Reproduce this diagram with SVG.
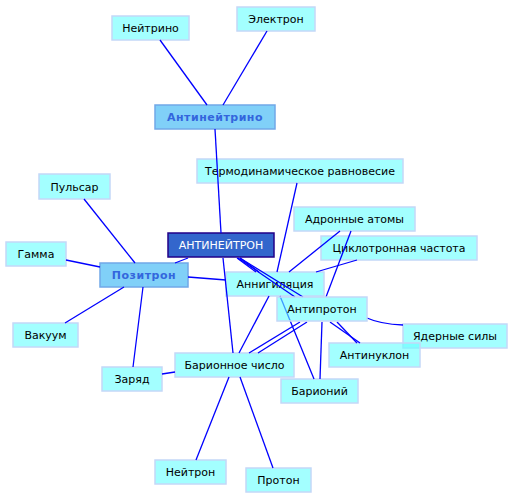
<svg xmlns="http://www.w3.org/2000/svg" width="513" height="499" viewBox="0 0 513 499">
<style>
.n rect{fill:#66ffff;fill-opacity:0.6;stroke:#c4d8f8;stroke-width:1.5}
.n text{font-family:"DejaVu Sans",sans-serif;font-size:11px;fill:#000;text-anchor:middle}
.h rect{fill:#80d0f8;stroke:#70a8e8;stroke-width:1.5}
.h text{font-family:"DejaVu Sans",sans-serif;font-size:11px;font-weight:bold;fill:#3366dd;text-anchor:middle;letter-spacing:0.5px}
.c rect{fill:#3366cc;stroke:#220088;stroke-width:1.5}
.c text{font-family:"DejaVu Sans",sans-serif;font-size:11px;fill:#fff;text-anchor:middle}
#edges line,#edges path{stroke:#0000ff;stroke-width:1.3;fill:none}
</style>
<rect width="513" height="499" fill="#fff"/>
<g id="n-neutrino" class="n"><rect x="112" y="16" width="77" height="24"/><text x="150.5" y="32">Нейтрино</text></g>
<g id="n-electron" class="n"><rect x="237" y="7" width="78" height="24"/><text x="276" y="23">Электрон</text></g>
<g id="n-antineutrino" class="h"><rect x="155" y="105" width="120" height="24"/><text x="215" y="121">Антинейтрино</text></g>
<g id="n-thermo" class="n"><rect x="197" y="159" width="206" height="24"/><text x="300" y="175">Термодинамическое равновесие</text></g>
<g id="n-antineutron" class="c"><rect x="168" y="233" width="106" height="24"/><text x="221" y="249">АНТИНЕЙТРОН</text></g>
<g id="n-hadronic" class="n"><rect x="294" y="207" width="121" height="24"/><text x="354.5" y="223">Адронные атомы</text></g>
<g id="n-cyclotron" class="n"><rect x="321" y="236" width="156" height="24"/><text x="399" y="252">Циклотронная частота</text></g>
<g id="n-annihilation" class="n"><rect x="226" y="272" width="98" height="24"/><text x="275" y="288">Аннигиляция</text></g>
<g id="n-nuclear" class="n"><rect x="403" y="324" width="104" height="24"/><text x="455" y="340">Ядерные силы</text></g>
<g id="n-antinucleon" class="n"><rect x="329" y="343" width="91" height="24"/><text x="374.5" y="359">Антинуклон</text></g>
<g id="n-baryonium" class="n"><rect x="281" y="379" width="77" height="24"/><text x="319.5" y="395">Барионий</text></g>
<g id="n-baryon" class="n"><rect x="175" y="353" width="119" height="24"/><text x="234.5" y="369">Барионное число</text></g>
<g id="n-charge" class="n"><rect x="102" y="367" width="60" height="24"/><text x="132" y="383">Заряд</text></g>
<g id="n-neutron" class="n"><rect x="155" y="460" width="71" height="24"/><text x="190.5" y="476">Нейтрон</text></g>
<g id="n-proton" class="n"><rect x="246" y="468" width="65" height="24"/><text x="278.5" y="484">Протон</text></g>
<g id="n-pulsar" class="n"><rect x="39" y="174" width="71" height="25"/><text x="74.5" y="191">Пульсар</text></g>
<g id="n-gamma" class="n"><rect x="6" y="242" width="60" height="24"/><text x="36" y="258">Гамма</text></g>
<g id="n-positron" class="h"><rect x="100" y="263" width="88" height="24"/><text x="144" y="279">Позитрон</text></g>
<g id="n-vacuum" class="n"><rect x="13" y="323" width="65" height="24"/><text x="45.5" y="339">Вакуум</text></g>
<g id="edges">
<line x1="160" y1="40" x2="207" y2="105"/>
<line x1="267" y1="31" x2="223" y2="105"/>
<line x1="215" y1="129" x2="221" y2="233"/>
<line x1="223" y1="258" x2="233" y2="353"/>
<line x1="297" y1="183" x2="277" y2="272"/>
<line x1="340" y1="231" x2="289" y2="272"/>
<line x1="351" y1="231" x2="326" y2="297"/>
<line x1="357" y1="260" x2="316" y2="272"/>
<line x1="237" y1="258" x2="256" y2="272"/>
<line x1="240" y1="258" x2="259" y2="272"/>
<line x1="240" y1="258" x2="303" y2="297"/>
<line x1="238" y1="258" x2="295" y2="297"/>
<line x1="330" y1="322" x2="360" y2="343"/>
<line x1="337" y1="322" x2="357" y2="343"/>
<line x1="280" y1="296" x2="314" y2="379"/>
<line x1="322" y1="322" x2="320" y2="379"/>
<line x1="269" y1="296" x2="239" y2="353"/>
<line x1="300" y1="322" x2="249" y2="353"/>
<line x1="307" y1="322" x2="258" y2="353"/>
<path d="M367 318 Q380 324 403 325"/>
<line x1="175" y1="263" x2="188" y2="258"/>
<line x1="188" y1="277" x2="226" y2="280"/>
<line x1="84" y1="199" x2="135" y2="263"/>
<line x1="66" y1="260" x2="100" y2="267"/>
<line x1="65" y1="323" x2="124" y2="287"/>
<line x1="143" y1="287" x2="133" y2="367"/>
<line x1="162" y1="374" x2="175" y2="372"/>
<line x1="229" y1="377" x2="196" y2="460"/>
<line x1="240" y1="377" x2="273" y2="468"/>
</g>
<g id="n-antiproton" class="n"><rect x="277" y="297" width="90" height="24"/><text x="322" y="313">Антипротон</text></g>
</svg>
